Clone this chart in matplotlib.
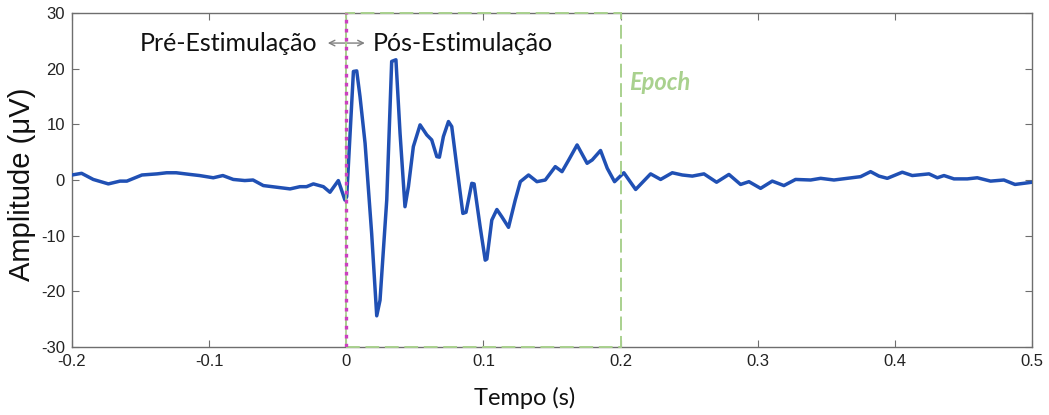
import matplotlib
matplotlib.use("Agg")
from matplotlib import pyplot as plt
from matplotlib.patches import Rectangle

plt.rcParams["axes.unicode_minus"] = False

# averaged evoked response, time in s and amplitude in uV
tempo = [-0.200, -0.193, -0.1845, -0.1735, -0.165, -0.160, -0.149, -0.138, -0.131, -0.124,
         -0.114, -0.107, -0.097, -0.090, -0.0824, -0.074, -0.068, -0.0605, -0.0507, -0.041,
         -0.0338, -0.029, -0.024, -0.0167, -0.0119, -0.0058, -0.001, 0.0003, 0.0052, 0.0076,
         0.010, 0.0137, 0.0185, 0.0222, 0.0246, 0.0295, 0.0331, 0.0362, 0.0392, 0.0428,
         0.0453, 0.0489, 0.0538, 0.0587, 0.0623, 0.066, 0.0679, 0.0708, 0.0745, 0.0769,
         0.0806, 0.085, 0.0873, 0.0915, 0.0932, 0.0976, 0.1013, 0.1025, 0.1061, 0.1098,
         0.1134, 0.1183, 0.1232, 0.1269, 0.1329, 0.139, 0.1451, 0.1524, 0.1573, 0.1622,
         0.1683, 0.1756, 0.1793, 0.1854, 0.1903, 0.1956, 0.2024, 0.211, 0.2219, 0.2292,
         0.2377, 0.245, 0.2523, 0.2608, 0.270, 0.279, 0.2875, 0.2936, 0.3021, 0.3106,
         0.3191, 0.3276, 0.3386, 0.3459, 0.3556, 0.3653, 0.375, 0.3823, 0.3884, 0.3945,
         0.4054, 0.4127, 0.4249, 0.431, 0.4358, 0.4431, 0.4528, 0.4601, 0.4698, 0.4795,
         0.4876, 0.500]
amplitude = [0.9, 1.2, 0.1, -0.7, -0.2, -0.2, 0.9, 1.1, 1.3, 1.3,
             1.0, 0.8, 0.4, 0.8, 0.1, -0.1, 0.0, -1.0, -1.3, -1.6,
             -1.2, -1.2, -0.7, -1.2, -2.2, -0.1, -3.6, -3.0, 19.5, 19.6,
             15.0, 6.6, -9.6, -24.4, -21.6, -3.6, 21.3, 21.6, 8.4, -4.8,
             -1.2, 6.0, 9.9, 8.1, 7.2, 4.2, 4.1, 7.8, 10.5, 9.6,
             2.4, -6.0, -5.8, -0.6, -0.7, -8.4, -14.4, -14.2, -7.2, -5.3,
             -6.6, -8.5, -3.6, -0.3, 0.9, -0.3, 0.0, 2.4, 1.5, 3.6,
             6.3, 3.0, 3.6, 5.3, 2.1, -0.3, 1.3, -1.7, 1.1, 0.1,
             1.3, 0.9, 0.7, 1.1, -0.4, 1.0, -0.8, -0.3, -1.5, -0.2,
             -1.0, 0.1, 0.0, 0.3, 0.0, 0.3, 0.6, 1.5, 0.7, 0.3,
             1.4, 0.8, 1.1, 0.4, 0.8, 0.2, 0.2, 0.4, -0.2, 0.0,
             -0.8, -0.4]

x_ticks = [-0.2, -0.1, 0, 0.1, 0.2, 0.3, 0.4, 0.5]
x_tick_labels = ["-0.2", "-0.1", "0", "0.1", "0.2", "0.3", "0.4", "0.5"]
y_ticks = [-30, -20, -10, 0, 10, 20, 30]

estimulo = 0.0          # stimulus onset
epoch = (0.0, 0.2)      # analysis window

blue = "#2050b4"
green = "#a9d18e"
magenta = "#cc3fc0"
axis_gray = "#6e6e6e"

fig = plt.figure(figsize=(10.49, 4.15), dpi=100)
ax = fig.add_axes([72 / 1049, 1 - 347 / 415, 960 / 1049, 334 / 415])

ax.plot(tempo, amplitude, color=blue, lw=2.5, zorder=3, solid_joinstyle="round")

# epoch window
ax.add_patch(Rectangle((epoch[0], -30), epoch[1] - epoch[0], 60, fill=False,
                       edgecolor=green, lw=1.4, linestyle=(0, (7.1, 2.9)), zorder=4,
                       clip_on=False))
ax.axvline(estimulo, color=green, lw=1.2, zorder=4)
ax.axvline(estimulo, color=magenta, lw=2.4, linestyle=(0, (1.1, 1.6)),
           dash_capstyle="butt", zorder=5)

ax.set_xlim(-0.2, 0.5)
ax.set_ylim(-30, 30)
ax.set_xticks(x_ticks)
ax.set_xticklabels(x_tick_labels)
ax.set_yticks(y_ticks)
for s in ax.spines.values():
    s.set_color(axis_gray)
    s.set_linewidth(1.0)
ax.tick_params(direction="in", length=5, width=0.8, color=axis_gray,
               top=True, right=True, labelsize=12, labelcolor="#222222", pad=5)
for lab in ax.get_xticklabels() + ax.get_yticklabels():
    lab.set_fontfamily("Liberation Sans")

ax.text(-0.021, 24.6, "Pré-Estimulação", fontsize=18, family="Lato",
        ha="right", va="center", color="#111111")
ax.text(0.0195, 24.6, "Pós-Estimulação", fontsize=18, family="Lato",
        ha="left", va="center", color="#111111")
ax.annotate("", xy=(0.0135, 24.6), xytext=(-0.0135, 24.6),
            arrowprops=dict(arrowstyle="<->", color="#808080", lw=1.0,
                            shrinkA=0, shrinkB=0))
ax.text(0.206, 17.5, "Epoch", fontsize=17, family="Lato", weight="bold",
        style="italic", color=green, ha="left", va="center")

fig.text(22 / 1049, 1 - 184 / 415, "Amplitude (μV)", rotation=90, fontsize=21,
         family="Liberation Sans", ha="center", va="center", color="#111111")
fig.text(525 / 1049, 1 - 405 / 415, "Tempo (s)", fontsize=17, family="Lato",
         ha="center", va="baseline", color="#111111")

fig.savefig("out.png", dpi=100)
